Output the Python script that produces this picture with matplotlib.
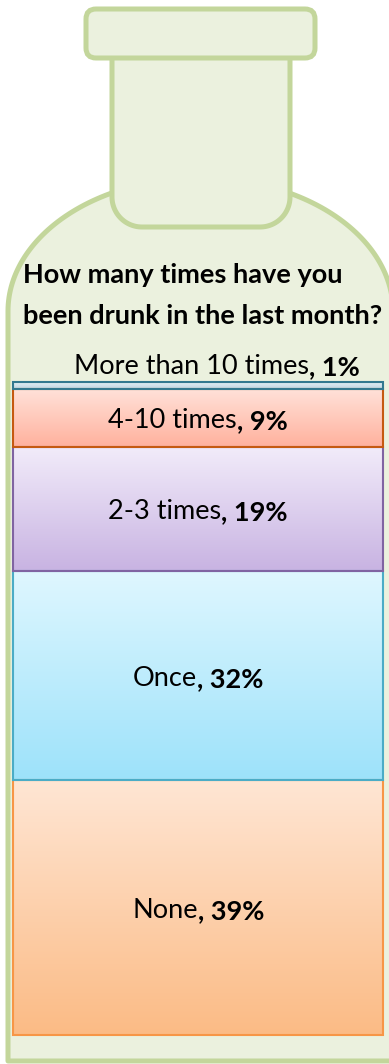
import numpy as np
import matplotlib
matplotlib.use('Agg')
import matplotlib.pyplot as plt
from matplotlib.patches import FancyBboxPatch, Polygon
from matplotlib.colors import LinearSegmentedColormap

# stacked from the bottom of the bottle upwards
categories = ['None', 'Once', '2-3 times', '4-10 times', 'More than 10 times']
shares = [39, 32, 19, 9, 1]
top_colors = ['#ffe6d4', '#dff7ff', '#f2ecfa', '#ffe2da', '#e2eef4']
bottom_colors = ['#fbbb85', '#9de2fa', '#c8b3e2', '#ffb19d', '#bcd5e2']
edge_colors = ['#f79646', '#4bacc6', '#8064a2', '#c55a11', '#31788f']
title_lines = ['How many times have you', 'been drunk in the last month?']

W, H = 389, 1064
FONT = 'Lato'
FS = 19.5

fig = plt.figure(figsize=(W / 100, H / 100), dpi=100)
bg = fig.add_axes([0, 0, 1, 1])
bg.set_xlim(0, W)
bg.set_ylim(H, 0)
bg.axis('off')

glass = '#ebf1de'
rim = '#c3d69b'
lw = 3.6

# bottle body: elliptical shoulder, straight sides
cx, cy, a, b = 200.5, 311, 192.5, 133
t = np.linspace(np.pi, 0, 120)
body = [(cx - a, 1061)] + list(zip(cx + a * np.cos(t), cy - b * np.sin(t))) + [(cx + a, 1061)]
bg.add_patch(Polygon(body, closed=True, fc=glass, ec=rim, lw=lw, joinstyle='round'))

# neck with rounded lower corners
left, right, bot, top, r = 112, 290, 227, 50, 30
phi = np.linspace(0, np.pi / 2, 30)
neck = [(left, top)]
neck += list(zip(left + r - r * np.cos(phi), bot - r + r * np.sin(phi)))
neck += list(zip(right - r + r * np.sin(phi), bot - r + r * np.cos(phi)))
neck += [(right, top)]
bg.add_patch(Polygon(neck, closed=True, fc=glass, ec=rim, lw=lw, joinstyle='round'))

# cap
bg.add_patch(FancyBboxPatch((86, 9), 229, 49, boxstyle='round,pad=0,rounding_size=10',
                            fc=glass, ec=rim, lw=lw))

bg.text(23, 283, title_lines[0], fontsize=FS, weight='bold', family=FONT, va='baseline')
bg.text(23, 324, title_lines[1], fontsize=FS, weight='bold', family=FONT, va='baseline')

# stacked bar inside the bottle
ax = fig.add_axes([13 / W, (H - 1035) / H, 370 / W, 653 / H])
bottoms = np.concatenate([[0], np.cumsum(shares)[:-1]])
bars = ax.bar([0] * len(shares), shares, bottom=bottoms, width=1, facecolor='none',
              edgecolor=edge_colors, linewidth=1.5, zorder=3, clip_on=False)

grad = np.linspace(0, 1, 256).reshape(-1, 1)
for rect, c_top, c_bot in zip(bars, top_colors, bottom_colors):
    x0, y0 = rect.get_x(), rect.get_y()
    cmap = LinearSegmentedColormap.from_list('seg', [c_bot, c_top])
    im = ax.imshow(grad, origin='lower', cmap=cmap, aspect='auto', zorder=1,
                   extent=(x0, x0 + rect.get_width(), y0, y0 + rect.get_height()))
    im.set_clip_path(rect)

ax.set_xlim(-0.5, 0.5)
ax.set_ylim(0, 100)
ax.axis('off')

renderer = fig.canvas.get_renderer()


def label(plain, bold, xy, offset=(0, 0)):
    # plain name followed by the bold share, centred as one line
    t1 = ax.annotate(plain, xy=xy, xytext=offset, textcoords='offset pixels',
                     ha='left', va='center_baseline', fontsize=FS, family=FONT)
    t2 = ax.annotate(bold, xy=(1, 0), xycoords=t1, ha='left', va='bottom',
                     fontsize=FS, family=FONT, weight='bold')
    w = t1.get_window_extent(renderer).width + t2.get_window_extent(renderer).width
    t1.xyann = (offset[0] - w / 2, offset[1])
    return t1, t2


for name, v, b0 in zip(categories, shares, bottoms):
    if v >= 5:
        label(name, f', {v}%', (0, b0 + v / 2))
    else:
        # too thin to hold its label: put it just above the stack
        label(name, f', {v}%', (0, b0 + v), offset=(19, 18))

fig.savefig('out.png', dpi=100)
